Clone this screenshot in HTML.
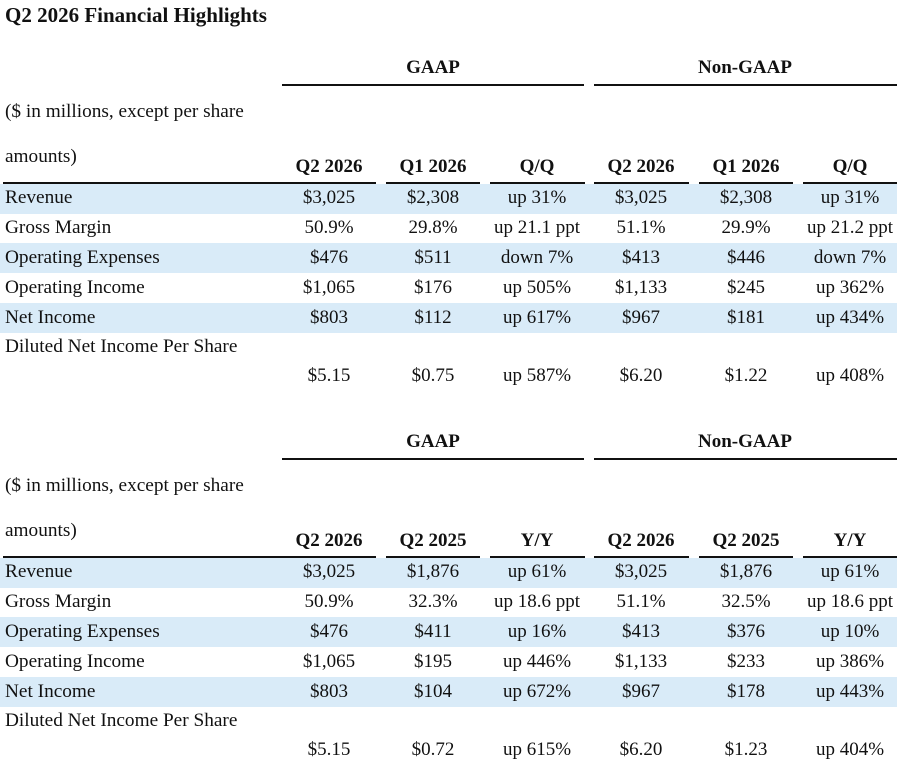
<!DOCTYPE html>
<html><head><meta charset="utf-8"><style>
body{margin:0;background:#fff;width:899px;height:756px;position:relative;overflow:hidden;font-family:"Liberation Serif",serif;color:#111;}
.t{position:absolute;line-height:22px;white-space:nowrap;font-size:19.3px;}
.c{position:absolute;line-height:22px;white-space:nowrap;font-size:19px;text-align:center;width:110px;}
.b{font-weight:bold;font-size:19px;}
.l{position:absolute;height:2px;background:#111;}
.band{position:absolute;left:0;width:897px;height:30px;background:#d9ebf8;}
</style></head><body>
<div class="t b" style="left:5px;top:4px;font-size:21px">Q2 2026 Financial Highlights</div>

<!-- TABLE 1 -->
<div class="band" style="top:184px"></div>
<div class="band" style="top:243px"></div>
<div class="band" style="top:303px"></div>
<div class="c b" style="left:378px;top:57px;width:110px">GAAP</div>
<div class="c b" style="left:690px;top:57px">Non-GAAP</div>
<div class="l" style="left:282px;top:84px;width:302px"></div>
<div class="l" style="left:594px;top:84px;width:303px"></div>
<div class="t" style="left:5px;top:101px">($ in millions, except per share</div>
<div class="t" style="left:5px;top:146px">amounts)</div>
<div class="c b" style="left:274px;top:156px">Q2 2026</div>
<div class="c b" style="left:378px;top:156px">Q1 2026</div>
<div class="c b" style="left:482px;top:156px">Q/Q</div>
<div class="c b" style="left:586px;top:156px">Q2 2026</div>
<div class="c b" style="left:691px;top:156px">Q1 2026</div>
<div class="c b" style="left:795px;top:156px">Q/Q</div>
<div class="l" style="left:3px;top:182px;width:373px"></div>
<div class="l" style="left:386px;top:182px;width:94px"></div>
<div class="l" style="left:490px;top:182px;width:95px"></div>
<div class="l" style="left:594px;top:182px;width:95px"></div>
<div class="l" style="left:699px;top:182px;width:94px"></div>
<div class="l" style="left:803px;top:182px;width:94px"></div>

<div class="t" style="left:5px;top:187px">Revenue</div>
<div class="c" style="left:274px;top:187px">$3,025</div><div class="c" style="left:378px;top:187px">$2,308</div><div class="c" style="left:482px;top:187px">up 31%</div><div class="c" style="left:586px;top:187px">$3,025</div><div class="c" style="left:691px;top:187px">$2,308</div><div class="c" style="left:795px;top:187px">up 31%</div>
<div class="t" style="left:5px;top:217px">Gross Margin</div>
<div class="c" style="left:274px;top:217px">50.9%</div><div class="c" style="left:378px;top:217px">29.8%</div><div class="c" style="left:482px;top:217px">up 21.1 ppt</div><div class="c" style="left:586px;top:217px">51.1%</div><div class="c" style="left:691px;top:217px">29.9%</div><div class="c" style="left:795px;top:217px">up 21.2 ppt</div>
<div class="t" style="left:5px;top:247px">Operating Expenses</div>
<div class="c" style="left:274px;top:247px">$476</div><div class="c" style="left:378px;top:247px">$511</div><div class="c" style="left:482px;top:247px">down 7%</div><div class="c" style="left:586px;top:247px">$413</div><div class="c" style="left:691px;top:247px">$446</div><div class="c" style="left:795px;top:247px">down 7%</div>
<div class="t" style="left:5px;top:277px">Operating Income</div>
<div class="c" style="left:274px;top:277px">$1,065</div><div class="c" style="left:378px;top:277px">$176</div><div class="c" style="left:482px;top:277px">up 505%</div><div class="c" style="left:586px;top:277px">$1,133</div><div class="c" style="left:691px;top:277px">$245</div><div class="c" style="left:795px;top:277px">up 362%</div>
<div class="t" style="left:5px;top:307px">Net Income</div>
<div class="c" style="left:274px;top:307px">$803</div><div class="c" style="left:378px;top:307px">$112</div><div class="c" style="left:482px;top:307px">up 617%</div><div class="c" style="left:586px;top:307px">$967</div><div class="c" style="left:691px;top:307px">$181</div><div class="c" style="left:795px;top:307px">up 434%</div>
<div class="t" style="left:5px;top:336px">Diluted Net Income Per Share</div>
<div class="c" style="left:274px;top:365px">$5.15</div><div class="c" style="left:378px;top:365px">$0.75</div><div class="c" style="left:482px;top:365px">up 587%</div><div class="c" style="left:586px;top:365px">$6.20</div><div class="c" style="left:691px;top:365px">$1.22</div><div class="c" style="left:795px;top:365px">up 408%</div>

<!-- TABLE 2 -->
<div class="band" style="top:558px"></div>
<div class="band" style="top:617px"></div>
<div class="band" style="top:677px"></div>
<div class="c b" style="left:378px;top:431px">GAAP</div>
<div class="c b" style="left:690px;top:431px">Non-GAAP</div>
<div class="l" style="left:282px;top:458px;width:302px"></div>
<div class="l" style="left:594px;top:458px;width:303px"></div>
<div class="t" style="left:5px;top:475px">($ in millions, except per share</div>
<div class="t" style="left:5px;top:520px">amounts)</div>
<div class="c b" style="left:274px;top:530px">Q2 2026</div>
<div class="c b" style="left:378px;top:530px">Q2 2025</div>
<div class="c b" style="left:482px;top:530px">Y/Y</div>
<div class="c b" style="left:586px;top:530px">Q2 2026</div>
<div class="c b" style="left:691px;top:530px">Q2 2025</div>
<div class="c b" style="left:795px;top:530px">Y/Y</div>
<div class="l" style="left:3px;top:556px;width:373px"></div>
<div class="l" style="left:386px;top:556px;width:94px"></div>
<div class="l" style="left:490px;top:556px;width:95px"></div>
<div class="l" style="left:594px;top:556px;width:95px"></div>
<div class="l" style="left:699px;top:556px;width:94px"></div>
<div class="l" style="left:803px;top:556px;width:94px"></div>

<div class="t" style="left:5px;top:561px">Revenue</div>
<div class="c" style="left:274px;top:561px">$3,025</div><div class="c" style="left:378px;top:561px">$1,876</div><div class="c" style="left:482px;top:561px">up 61%</div><div class="c" style="left:586px;top:561px">$3,025</div><div class="c" style="left:691px;top:561px">$1,876</div><div class="c" style="left:795px;top:561px">up 61%</div>
<div class="t" style="left:5px;top:591px">Gross Margin</div>
<div class="c" style="left:274px;top:591px">50.9%</div><div class="c" style="left:378px;top:591px">32.3%</div><div class="c" style="left:482px;top:591px">up 18.6 ppt</div><div class="c" style="left:586px;top:591px">51.1%</div><div class="c" style="left:691px;top:591px">32.5%</div><div class="c" style="left:795px;top:591px">up 18.6 ppt</div>
<div class="t" style="left:5px;top:621px">Operating Expenses</div>
<div class="c" style="left:274px;top:621px">$476</div><div class="c" style="left:378px;top:621px">$411</div><div class="c" style="left:482px;top:621px">up 16%</div><div class="c" style="left:586px;top:621px">$413</div><div class="c" style="left:691px;top:621px">$376</div><div class="c" style="left:795px;top:621px">up 10%</div>
<div class="t" style="left:5px;top:651px">Operating Income</div>
<div class="c" style="left:274px;top:651px">$1,065</div><div class="c" style="left:378px;top:651px">$195</div><div class="c" style="left:482px;top:651px">up 446%</div><div class="c" style="left:586px;top:651px">$1,133</div><div class="c" style="left:691px;top:651px">$233</div><div class="c" style="left:795px;top:651px">up 386%</div>
<div class="t" style="left:5px;top:681px">Net Income</div>
<div class="c" style="left:274px;top:681px">$803</div><div class="c" style="left:378px;top:681px">$104</div><div class="c" style="left:482px;top:681px">up 672%</div><div class="c" style="left:586px;top:681px">$967</div><div class="c" style="left:691px;top:681px">$178</div><div class="c" style="left:795px;top:681px">up 443%</div>
<div class="t" style="left:5px;top:710px">Diluted Net Income Per Share</div>
<div class="c" style="left:274px;top:739px">$5.15</div><div class="c" style="left:378px;top:739px">$0.72</div><div class="c" style="left:482px;top:739px">up 615%</div><div class="c" style="left:586px;top:739px">$6.20</div><div class="c" style="left:691px;top:739px">$1.23</div><div class="c" style="left:795px;top:739px">up 404%</div>
</body></html>
